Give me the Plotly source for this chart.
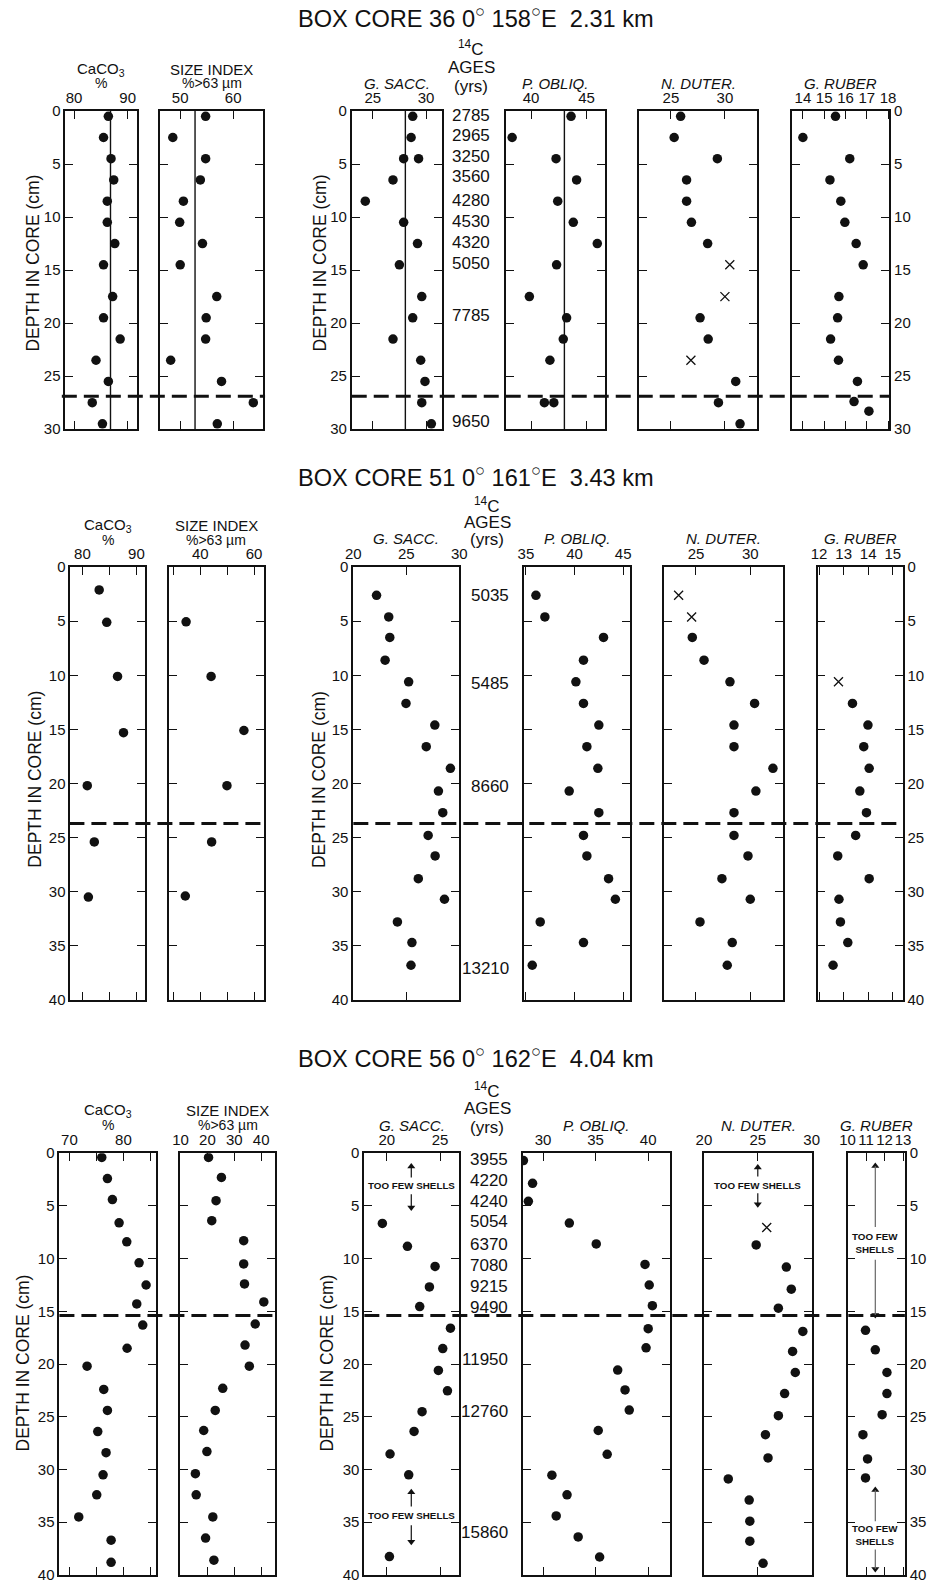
import plotly.graph_objects as go

# ------------------------------------------------------------------
# Box core 36  (0 deg, 158 E, 2.31 km)   depths in cm
# ------------------------------------------------------------------
bc36_depth = [0.5, 2.5, 4.5, 6.5, 8.5, 10.5, 12.5, 14.5, 17.5, 19.5, 21.5, 23.5, 25.5, 27.5, 29.5]
bc36_caco3 = [86.4, 85.5, 86.9, 87.4, 86.2, 86.2, 87.6, 85.5, 87.2, 85.5, 88.6, 84.1, 86.4, 83.4, 85.3]
bc36_size = [54.8, 48.6, 54.8, 53.8, 50.6, 49.9, 54.2, 50.0, 56.9, 54.9, 54.8, 48.2, 57.8, 63.8, 57.0]
bc36_sacc_depth = [0.5, 2.5, 4.5, 4.5, 6.5, 8.5, 10.5, 12.5, 14.5, 17.5, 19.5, 21.5, 23.5, 25.5, 27.5, 29.5]
bc36_sacc = [28.75, 28.6, 27.9, 29.3, 26.9, 24.3, 27.9, 29.2, 27.5, 29.6, 28.75, 26.9, 29.5, 29.9, 29.6, 30.5]
bc36_obliq_depth = [0.5, 2.5, 4.5, 6.5, 8.5, 10.5, 12.5, 14.5, 17.5, 19.5, 21.5, 23.5, 27.5, 27.5]
bc36_obliq = [43.6, 38.3, 42.25, 44.1, 42.4, 43.8, 45.96, 42.3, 39.85, 43.2, 42.9, 41.7, 41.2, 42.05]
bc36_duter_depth = [0.5, 2.5, 4.5, 6.5, 8.5, 10.5, 12.5, 19.5, 21.5, 25.5, 27.5, 29.5]
bc36_duter = [25.9, 25.3, 29.3, 26.45, 26.45, 26.9, 28.4, 27.7, 28.45, 31.0, 29.4, 31.4]
bc36_duter_x_depth = [14.5, 17.5, 23.5]
bc36_duter_x = [30.45, 30.0, 26.85]
bc36_ruber_depth = [0.5, 2.5, 4.5, 6.5, 8.5, 10.5, 12.5, 14.5, 17.5, 19.5, 21.5, 23.5, 25.5, 27.4, 28.3]
bc36_ruber = [15.53, 14.0, 16.2, 15.27, 15.78, 15.97, 16.5, 16.83, 15.69, 15.63, 15.3, 15.67, 16.56, 16.4, 17.1]
bc36_means = [86.8, 52.8, 28.06, 43.0]          # CaCO3, size index, G. sacc., P. obliq.
bc36_age_depth = [0.4, 2.3, 4.3, 6.2, 8.4, 10.4, 12.4, 14.4, 19.3, 29.3]
bc36_ages = ["2785", "2965", "3250", "3560", "4280", "4530", "4320", "5050", "7785", "9650"]
bc36_boundary = 26.9

# ------------------------------------------------------------------
# Box core 51  (0 deg, 161 E, 3.43 km)
# ------------------------------------------------------------------
bc51_caco3_depth = [2.1, 5.1, 10.1, 15.3, 20.2, 25.4, 30.5]
bc51_caco3 = [83.1, 84.5, 86.5, 87.6, 80.9, 82.2, 81.1]
bc51_size_depth = [5.05, 10.1, 15.1, 20.2, 25.4, 30.4]
bc51_size = [34.7, 44.0, 56.2, 49.9, 44.2, 34.4]
bc51_depth = [2.6, 4.6, 6.5, 8.6, 10.6, 12.6, 14.6, 16.6, 18.6, 20.7, 22.7, 24.8, 26.7, 28.8, 30.7, 32.8, 34.7, 36.8]
bc51_sacc = [22.19, 23.34, 23.44, 23.0, 25.22, 24.97, 27.69, 26.88, 29.16, 28.03, 28.44, 27.06, 27.72, 26.13, 28.6, 24.16, 25.53, 25.44]
bc51_obliq = [36.03, 36.95, 42.98, 40.92, 40.14, 40.92, 42.5, 41.27, 42.4, 39.45, 42.5, 40.92, 41.27, 43.5, 44.2, 36.47, 40.92, 35.65]
bc51_duter_x_depth = [2.6, 4.6]
bc51_duter_x = [23.4, 24.6]
bc51_duter_depth = [6.5, 8.6, 10.6, 12.6, 14.6, 16.6, 18.6, 20.7, 22.7, 24.8, 26.7, 28.8, 30.7, 32.8, 34.7, 36.8]
bc51_duter = [24.66, 25.74, 28.13, 30.4, 28.5, 28.5, 32.09, 30.52, 28.5, 28.5, 29.79, 27.39, 30.0, 25.37, 28.34, 27.88]
bc51_ruber_x_depth = [10.6]
bc51_ruber_x = [12.79]
bc51_ruber_depth = [12.6, 14.6, 16.6, 18.6, 20.7, 22.7, 24.8, 26.7, 28.8, 30.7, 32.8, 34.7, 36.8]
bc51_ruber = [13.36, 13.99, 13.82, 14.04, 13.66, 13.93, 13.49, 12.76, 14.04, 12.81, 12.87, 13.17, 12.57]
bc51_age_depth = [2.6, 10.8, 20.3, 37.1]
bc51_ages = ["5035", "5485", "8660", "13210"]
bc51_boundary = 23.7

# ------------------------------------------------------------------
# Box core 56  (0 deg, 162 E, 4.04 km)
# ------------------------------------------------------------------
bc56_caco3_depth = [0.4, 2.4, 4.4, 6.6, 8.4, 10.4, 12.5, 14.3, 16.3, 18.5, 20.2, 22.4, 24.4, 26.4, 28.4, 30.5, 32.4, 34.5, 36.7, 38.8]
bc56_caco3 = [75.99, 77.04, 77.96, 79.2, 80.62, 82.9, 84.2, 82.47, 83.58, 80.68, 73.27, 76.36, 77.04, 75.25, 76.79, 76.23, 75.06, 71.73, 77.72, 77.72]
bc56_size_depth = [0.4, 2.3, 4.5, 6.4, 8.3, 10.5, 12.4, 14.1, 16.2, 18.2, 20.2, 22.3, 24.4, 26.3, 28.3, 30.4, 32.4, 34.5, 36.5, 38.6]
bc56_size = [20.4, 25.2, 23.2, 21.6, 33.5, 33.5, 33.8, 41.0, 37.8, 34.0, 35.6, 25.7, 22.9, 18.6, 19.8, 15.5, 15.8, 22.0, 19.3, 22.4]
bc56_sacc_depth = [6.66, 8.83, 10.74, 12.68, 14.55, 16.59, 18.53, 20.6, 22.54, 24.52, 26.39, 28.53, 30.5, 38.26]
bc56_sacc = [19.59, 21.94, 24.53, 24.0, 23.09, 25.97, 25.25, 24.84, 25.69, 23.31, 22.56, 20.31, 22.06, 20.25]
bc56_obliq_depth = [0.7, 2.85, 4.56, 6.63, 8.6, 10.55, 12.5, 14.46, 16.64, 18.46, 20.57, 22.45, 24.36, 26.3, 28.56, 30.54, 32.4, 34.4, 36.4, 38.3]
bc56_obliq = [28.13, 29.0, 28.6, 32.5, 35.06, 39.7, 40.1, 40.4, 40.0, 39.8, 37.1, 37.8, 38.2, 35.25, 36.1, 30.84, 32.28, 31.25, 33.34, 35.38]
bc56_duter_x_depth = [7.05]
bc56_duter_x = [25.83]
bc56_duter_depth = [8.7, 10.8, 12.9, 14.7, 16.9, 18.8, 20.8, 22.8, 24.9, 26.7, 28.9, 30.9, 32.9, 34.9, 36.8, 38.9]
bc56_duter = [24.85, 27.65, 28.11, 26.91, 29.18, 28.23, 28.48, 27.49, 26.91, 25.71, 25.95, 22.26, 24.2, 24.26, 24.26, 25.49]
bc56_ruber_depth = [16.8, 18.65, 20.8, 22.8, 24.8, 26.7, 29.0, 30.8]
bc56_ruber = [10.97, 11.5, 12.13, 12.13, 11.87, 10.83, 11.08, 10.97]
bc56_age_depth = [0.6, 2.54, 4.58, 6.52, 8.63, 10.67, 12.6, 14.6, 19.6, 24.5, 36.0]
bc56_ages = ["3955", "4220", "4240", "5054", "6370", "7080", "9215", "9490", "11950", "12760", "15860"]
bc56_boundary = 15.4

# intervals with too few shells (core 56): panel, label position, arrows (tip, tail)
bc56_gaps = [
    # G. sacc.
    dict(panel=15, x=22.3, label_depth=3.1, label="TOO FEW SHELLS", arrows=[(0.9, 2.3), (5.5, 3.9)], shaft="#111111"),
    dict(panel=15, x=22.3, label_depth=34.4, label="TOO FEW SHELLS", arrows=[(31.8, 33.5), (37.2, 35.3)], shaft="#111111"),
    # N. duter.
    dict(panel=17, x=25.0, label_depth=3.05, label="TOO FEW SHELLS", arrows=[(1.0, 2.2), (5.2, 3.8)], shaft="#111111"),
    # G. ruber
    dict(panel=18, x=11.5, label_depth=8.55, label="TOO FEW<br>SHELLS", arrows=[(0.85, 7.0), (15.7, 10.1)], shaft="#666666"),
    dict(panel=18, x=11.5, label_depth=36.2, label="TOO FEW<br>SHELLS", arrows=[(31.6, 34.9), (39.8, 37.6)], shaft="#666666"),
]

core_titles = [
    "BOX CORE 36 0<sup>○</sup> 158<sup>○</sup>E &nbsp;2.31 km",
    "BOX CORE 51 0<sup>○</sup> 161<sup>○</sup>E &nbsp;3.43 km",
    "BOX CORE 56 0<sup>○</sup> 162<sup>○</sup>E &nbsp;4.04 km",
]
species_names = ["G. SACC.", "P. OBLIQ.", "N. DUTER.", "G. RUBER"]

# ------------------------------------------------------------------
# page geometry
# ------------------------------------------------------------------
W, H = 933, 1585
FONT = "Liberation Sans, Arial, Helvetica, sans-serif"
INK = "#111111"

# the page body keeps its default 8 px margin, so the 933 x 1585 figure sits in a
# 949 x 1601 page; layout positions below are given in page pixels and mapped back
PAGE_MARGIN = 8.0
SX = W / (W + 2 * PAGE_MARGIN)
SY = H / (H + 2 * PAGE_MARGIN)


def fx(p):
    return (p / SX - PAGE_MARGIN) / W


def fy(p):
    return 1.0 - (p / SY - PAGE_MARGIN) / H


# ticks per panel: (labelled values, labels, unlabelled minor values)
ROWS = [
    dict(top=110.0, bottom=428.4, dmax=30,
         frames=[(65.3, 136.7), (160.0, 263.3), (351.7, 441.7), (505.7, 605.0), (639.0, 757.3), (791.7, 889.3)],
         xranges=[(78.4, 91.7), (46.2, 65.7), (23.03, 31.47), (37.72, 46.65), (22.04, 32.99), (13.47, 18.05)],
         ticks=[([80, 90], ["80", "90"], []), ([50, 60], ["50", "60"], []), ([25, 30], ["25", "30"], []),
                ([40, 45], ["40", "45"], []), ([25, 30], ["25", "30"], []),
                ([14, 15, 16, 17, 18], ["14", "15", "16", "17", "18"], [])],
         title_y=16, chem_y=(68, 82), species_y=82, c14_y=(46.7, 66, 85), c14_x=471.5, ages_x=492.5,
         depth_title=[(32.5, 262), (319.5, 262)],
         dashes=[(61.7, 265.0), (351.7, 889.3)]),
    dict(top=566.5, bottom=999.5, dmax=40,
         frames=[(70.3, 144.7), (168.7, 264.0), (353.3, 459.3), (524.0, 630.0), (663.7, 782.7), (817.7, 902.7)],
         xranges=[(77.78, 91.54), (28.26, 63.7), (20.0, 30.0), (34.8, 45.7), (22.02, 32.98), (11.94, 15.4)],
         ticks=[([80, 90], ["80", "90"], [85]), ([40, 60], ["40", "60"], [30, 50]),
                ([20, 25, 30], ["20", "25", "30"], []), ([35, 40, 45], ["35", "40", "45"], []),
                ([25, 30], ["25", "30"], []), ([12, 13, 14, 15], ["12", "13", "14", "15"], [])],
         title_y=475, chem_y=(525.0, 539.5), species_y=538.0, c14_y=(504, 521.5, 538.5), c14_x=487.5, ages_x=510.7,
         depth_title=[(34.0, 779), (318.5, 779)],
         dashes=[(69.3, 264.0), (353.3, 902.7)]),
    dict(top=1153.0, bottom=1575.0, dmax=40,
         frames=[(59.3, 156.0), (180.0, 275.3), (364.3, 459.3), (522.7, 670.3), (704.0, 812.3), (847.7, 905.0)],
         xranges=[(68.15, 86.05), (9.8, 45.3), (17.9, 26.8), (28.06, 42.1), (20.0, 30.05), (10.0, 13.1)],
         ticks=[([70, 80], ["70", "80"], [75, 85]), ([10, 20, 30, 40], ["10", "20", "30", "40"], []),
                ([20, 25], ["20", "25"], []), ([30, 35, 40], ["30", "35", "40"], []),
                ([20, 25, 30], ["20", "25", "30"], []), ([10, 11, 12, 13], ["10", "11", "12", "13"], [])],
         title_y=1056.5, chem_y=(1110.7, 1124.9), species_y=1124.9, c14_y=(1090.2, 1108.6, 1127.3), c14_x=487.2, ages_x=510.0,
         depth_title=[(23.3, 1363), (327.5, 1363)],
         dashes=[(59.3, 275.3), (364.3, 905.0)]),
]

SERIES = [
    [
        [(bc36_caco3, bc36_depth, "dot")],
        [(bc36_size, bc36_depth, "dot")],
        [(bc36_sacc, bc36_sacc_depth, "dot")],
        [(bc36_obliq, bc36_obliq_depth, "dot")],
        [(bc36_duter, bc36_duter_depth, "dot"), (bc36_duter_x, bc36_duter_x_depth, "cross")],
        [(bc36_ruber, bc36_ruber_depth, "dot")],
    ],
    [
        [(bc51_caco3, bc51_caco3_depth, "dot")],
        [(bc51_size, bc51_size_depth, "dot")],
        [(bc51_sacc, bc51_depth, "dot")],
        [(bc51_obliq, bc51_depth, "dot")],
        [(bc51_duter, bc51_duter_depth, "dot"), (bc51_duter_x, bc51_duter_x_depth, "cross")],
        [(bc51_ruber, bc51_ruber_depth, "dot"), (bc51_ruber_x, bc51_ruber_x_depth, "cross")],
    ],
    [
        [(bc56_caco3, bc56_caco3_depth, "dot")],
        [(bc56_size, bc56_size_depth, "dot")],
        [(bc56_sacc, bc56_sacc_depth, "dot")],
        [(bc56_obliq, bc56_obliq_depth, "dot")],
        [(bc56_duter, bc56_duter_depth, "dot"), (bc56_duter_x, bc56_duter_x_depth, "cross")],
        [(bc56_ruber, bc56_ruber_depth, "dot")],
    ],
]
AGES = [(bc36_ages, bc36_age_depth), (bc51_ages, bc51_age_depth), (bc56_ages, bc56_age_depth)]
BOUNDARIES = [bc36_boundary, bc51_boundary, bc56_boundary]


def ax_id(n):
    return "" if n == 1 else str(n)


fig = go.Figure()
layout = {}
shapes = []
ann = []


def text(x, y, s, size=15, italic=False, angle=0, xanchor="center", yanchor="middle", xref="paper", yref="paper"):
    ann.append(dict(
        x=x, y=y, xref=xref, yref=yref, text=s, showarrow=False, textangle=angle,
        xanchor=xanchor, yanchor=yanchor,
        font=dict(family=FONT, size=size, color=INK, style="italic" if italic else "normal"),
    ))


for r, row in enumerate(ROWS):
    dticks = list(range(0, row["dmax"] + 1, 5))
    for c, frame in enumerate(row["frames"]):
        n = r * 6 + c + 1
        tv, tt, minor_v = row["ticks"][c]
        axis_common = dict(
            showline=True, linewidth=1.8, linecolor=INK, mirror="ticks",
            ticks="inside", ticklen=8, tickwidth=1.3, tickcolor=INK,
            showgrid=False, zeroline=False, fixedrange=True, tickangle=0,
            tickfont=dict(family=FONT, size=15, color=INK),
        )
        xaxis = dict(
            axis_common, domain=[fx(frame[0]), fx(frame[1])], range=list(row["xranges"][c]),
            anchor="y" + ax_id(n), side="top", tickmode="array", tickvals=tv, ticktext=tt,
        )
        if minor_v:
            xaxis["minor"] = dict(tickmode="array", tickvals=minor_v, ticks="inside", ticklen=8,
                                  tickwidth=1.3, tickcolor=INK, showgrid=False)
        layout["xaxis" + ax_id(n)] = xaxis
        layout["yaxis" + ax_id(n)] = dict(
            axis_common, domain=[fy(row["bottom"]), fy(row["top"])], range=[row["dmax"], 0],
            anchor="x" + ax_id(n), side="right" if c == 5 else "left",
            tickmode="array", tickvals=dticks, ticktext=[str(v) for v in dticks],
            showticklabels=c in (0, 2, 5),
        )
        for xs, ys, kind in SERIES[r][c]:
            if kind == "dot":
                marker = dict(symbol="circle", size=9.5, color=INK, line=dict(width=0))
            else:
                marker = dict(symbol="x-thin", size=9, color=INK, line=dict(width=1.3, color=INK))
            fig.add_trace(go.Scatter(
                x=xs, y=ys, mode="markers", marker=marker,
                xaxis="x" + ax_id(n), yaxis="y" + ax_id(n), showlegend=False, hoverinfo="skip",
            ))

    # boundary (dashed) across each group of panels
    yref0 = "y" + ax_id(r * 6 + 1)
    for x0, x1 in row["dashes"]:
        shapes.append(dict(type="line", xref="paper", yref=yref0, x0=fx(x0), x1=fx(x1),
                           y0=BOUNDARIES[r], y1=BOUNDARIES[r],
                           line=dict(color=INK, width=3, dash="15px,7px")))

    # core title
    text(fx(476.5), fy(row["title_y"]), core_titles[r], size=23.6)

    # column headers
    f0, f1 = row["frames"][0], row["frames"][1]
    text(fx((f0[0] + f0[1]) / 2), fy(row["chem_y"][0]), "CaCO<sub>3</sub>", size=15)
    text(fx((f0[0] + f0[1]) / 2), fy(row["chem_y"][1]), "%", size=14)
    text(fx((f1[0] + f1[1]) / 2), fy(row["chem_y"][0]), "SIZE INDEX", size=15)
    text(fx((f1[0] + f1[1]) / 2), fy(row["chem_y"][1]), "%>63 µm", size=14)
    for k, name in enumerate(species_names):
        fr = row["frames"][k + 2]
        text(fx((fr[0] + fr[1]) / 2), fy(row["species_y"]), name, size=15, italic=True)

    # radiocarbon ages column
    cy = row["c14_y"]
    text(fx(row["c14_x"]), fy(cy[0]), "<sup>14</sup>C", size=17)
    text(fx(row["c14_x"]), fy(cy[1]), "AGES", size=17)
    text(fx(row["c14_x"]), fy(cy[2]), "(yrs)", size=17)
    ages, adepth = AGES[r]
    yref_s = "y" + ax_id(r * 6 + 3)
    for a, d in zip(ages, adepth):
        text(fx(row["ages_x"]), d, a, size=17, xanchor="right", yref=yref_s)

    # depth axis titles
    for (tx, ty) in row["depth_title"]:
        text(fx(tx), fy(ty), "DEPTH IN CORE (cm)", size=17.5, angle=-90)

# reference (mean) lines for core 36
for c, m in enumerate(bc36_means):
    n = c + 1
    shapes.append(dict(type="line", xref="x" + ax_id(n), yref="y" + ax_id(n) + " domain",
                       x0=m, x1=m, y0=0, y1=1, line=dict(color=INK, width=1.4)))

# "too few shells" notes: label, shaft and arrow head
HEAD_BACK = 0.35   # arrow-head marker centre sits this far (cm) behind the tip
for g in bc56_gaps:
    n = g["panel"]
    xr, yr = "x" + ax_id(n), "y" + ax_id(n)
    ann.append(dict(
        x=g["x"], y=g["label_depth"], xref=xr, yref=yr, text="<b>" + g["label"] + "</b>", showarrow=False,
        xanchor="center", yanchor="middle", font=dict(family=FONT, size=9.8, color=INK),
    ))
    for tip, tail in g["arrows"]:
        up = tip < tail
        centre = tip + HEAD_BACK if up else tip - HEAD_BACK
        shapes.append(dict(type="line", xref=xr, yref=yr, x0=g["x"], x1=g["x"], y0=tail, y1=centre,
                           line=dict(color=g["shaft"], width=1.2)))
        fig.add_trace(go.Scatter(
            x=[g["x"]], y=[centre], mode="markers",
            marker=dict(symbol="triangle-up" if up else "triangle-down", size=7, color=INK, line=dict(width=0)),
            xaxis=xr, yaxis=yr, showlegend=False, hoverinfo="skip",
        ))

fig.update_layout(
    width=W, height=H, autosize=False,
    margin=dict(l=0, r=0, t=0, b=0, pad=0),
    paper_bgcolor="white", plot_bgcolor="white",
    showlegend=False,
    font=dict(family=FONT, size=15, color=INK),
    shapes=shapes, annotations=ann,
    **layout,
)

fig.write_html("out.html", config={"displayModeBar": False})
